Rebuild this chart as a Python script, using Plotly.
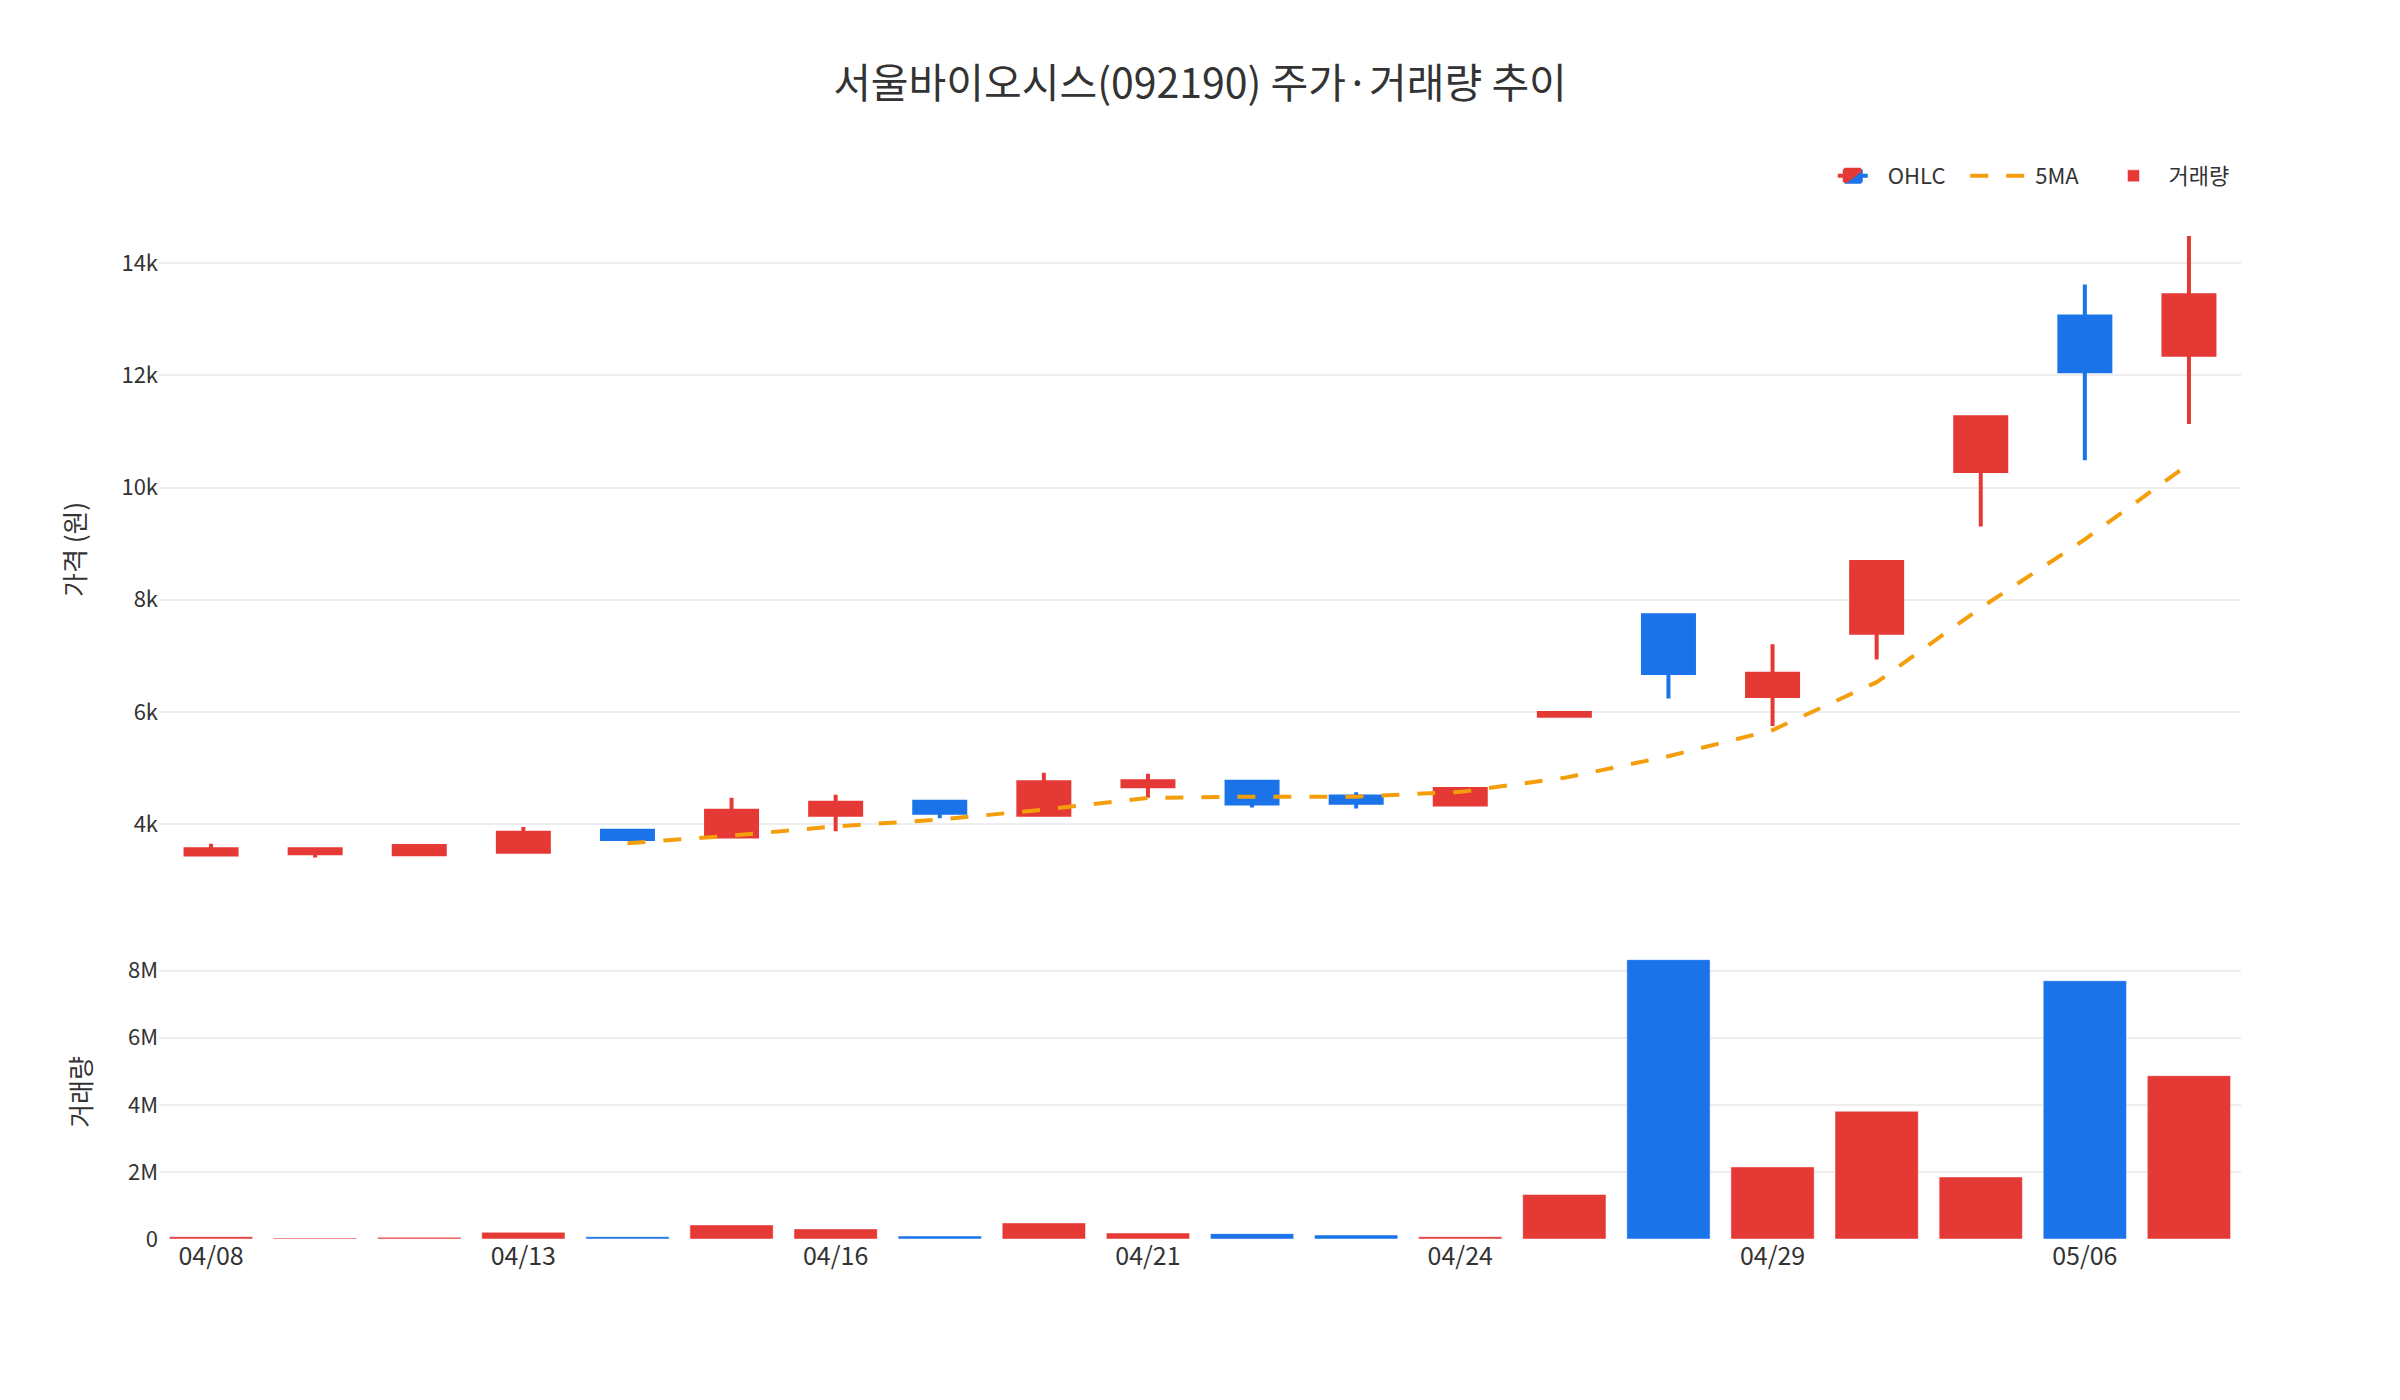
import plotly.graph_objects as go
from plotly.subplots import make_subplots

dates = ["04/08", "04/09", "04/10", "04/13", "04/14", "04/15", "04/16", "04/17", "04/20", "04/21",
         "04/22", "04/23", "04/24", "04/27", "04/28", "04/29", "04/30", "05/04", "05/06", "05/07"]
open_ = [3460, 3483, 3465, 3507, 3881, 3780, 4166, 4398, 4166, 4677,
         4754, 4493, 4350, 5930, 7724, 6286, 7410, 10293, 13046, 12365]
high = [3650, 3554, 3632, 3947, 3899, 4469, 4523, 4398, 4914, 4897,
        4754, 4570, 4659, 5990, 7740, 7206, 8671, 11254, 13618, 14484]
low = [3460, 3406, 3465, 3507, 3733, 3750, 3875, 4107, 4166, 4469,
       4297, 4279, 4350, 5920, 6238, 5748, 6933, 9305, 10484, 11131]
close = [3554, 3554, 3608, 3846, 3733, 4238, 4380, 4202, 4748, 4766,
         4368, 4380, 4624, 5983, 6695, 6681, 8671, 11254, 12072, 13428]
ma5 = [None, None, None, None, 3660, 3795, 3960, 4080, 4260, 4465,
       4490, 4490, 4575, 4825, 5210, 5675, 6530, 7855, 9075, 10420]
volume = [70000, 30000, 50000, 200000, 70000, 420000, 300000, 90000, 480000, 180000,
          160000, 120000, 70000, 1330000, 8330000, 2150000, 3810000, 1850000, 7700000, 4870000]
tick_labels = ["04/08", "04/13", "04/16", "04/21", "04/24", "04/29", "05/06"]

RED = "#E53935"
BLUE = "#1A73E8"
ORANGE = "#F59E0B"
FONT = "Noto Sans CJK KR"
TXT = "#333333"
GRID = "#eeeeee"
PAD = "\u00a0\u00a0\u00a0"

vol_colors = [RED if c >= o else BLUE for o, c in zip(open_, close)]

fig = make_subplots(rows=2, cols=1, shared_xaxes=True, vertical_spacing=0.054,
                    row_heights=[0.7, 0.3])

fig.add_trace(go.Candlestick(
    x=dates, open=open_, high=high, low=low, close=close, name="OHLC" + PAD,
    increasing=dict(line=dict(color=RED, width=4), fillcolor=RED),
    decreasing=dict(line=dict(color=BLUE, width=4), fillcolor=BLUE),
), row=1, col=1)

fig.add_trace(go.Scatter(
    x=dates, y=ma5, mode="lines", name="5MA" + PAD,
    line=dict(color=ORANGE, width=4, dash="18px,18px"),
), row=1, col=1)

fig.add_trace(go.Bar(
    x=dates, y=volume, name="거래량",
    marker=dict(color=vol_colors, line=dict(color="white", width=0.5)),
), row=2, col=1)

fig.update_layout(
    template="plotly_white",
    width=2400, height=1400,
    margin=dict(l=159, r=159, t=207, b=161),
    font=dict(family=FONT, size=22, color=TXT),
    title=dict(text="서울바이오시스(092190) 주가·거래량 추이", x=0.5, xanchor="center",
               y=1 - 84 / 1400, yanchor="middle", yref="container",
               font=dict(family=FONT, size=41, color=TXT)),
    legend=dict(orientation="h", x=0.997, xanchor="right", y=1 - 176 / 1400, yanchor="middle",
                yref="container", font=dict(size=22), itemwidth=60),
    plot_bgcolor="white", paper_bgcolor="white",
    xaxis_rangeslider_visible=False,
    yaxis=dict(domain=[0.339, 1.0]),
    yaxis2=dict(domain=[0.0, 0.2855]),
)

fig.update_xaxes(type="category", showgrid=False, row=1, col=1)
fig.update_xaxes(type="category", showgrid=False, tickvals=tick_labels, ticktext=tick_labels,
                 tickfont=dict(size=25), row=2, col=1)
fig.update_yaxes(title=dict(text="가격 (원)", font=dict(size=26), standoff=28),
                 range=[2829, 14964], gridcolor=GRID, gridwidth=2, zeroline=False,
                 tickfont=dict(size=22), row=1, col=1)
fig.update_yaxes(title=dict(text="거래량", font=dict(size=26), standoff=28),
                 gridcolor=GRID, gridwidth=2, zeroline=False,
                 tickfont=dict(size=22), row=2, col=1)

fig.write_html("out.html")
